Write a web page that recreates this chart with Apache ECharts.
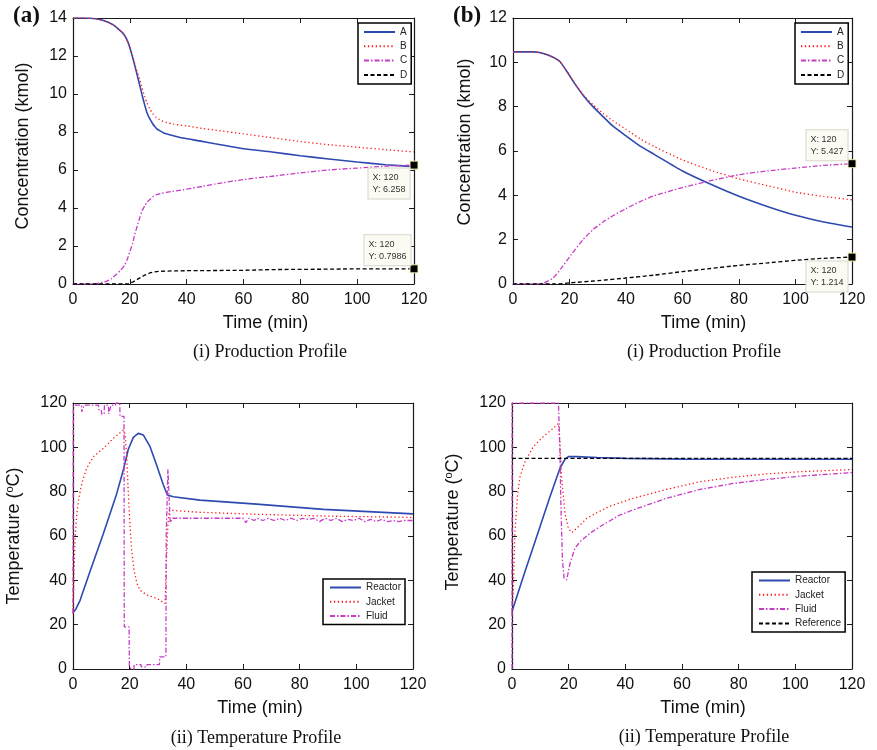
<!DOCTYPE html>
<html>
<head>
<meta charset="utf-8">
<script src="https://cdn.jsdelivr.net/npm/echarts@6/dist/echarts.min.js"></script>
<style>
html,body{margin:0;padding:0;background:#fff;}
#chart{width:877px;height:750px;}
</style>
</head>
<body>
<div id="chart"></div>
<script>
// ---------- Panel (a) production profile ----------
const tA_a = [0,4,8,11,14,16,17.6,19,20,21,21.7,22.5,23.5,24.3,25.2,26,27,28,28.7,29.5,30.5,32,34,38.7,45,50,60,70,80,90,100,110,120];
const A_a  = [14,14,13.96,13.85,13.65,13.42,13.2,12.85,12.45,11.92,11.52,11.05,10.45,9.96,9.44,9.03,8.7,8.45,8.3,8.17,8.07,7.95,7.86,7.68,7.52,7.38,7.12,6.95,6.75,6.58,6.42,6.28,6.18];
const tB_a = [0,4,8,11,14,16,17.6,19,20,21,22,23.5,24.3,25.2,26,27,28,29.3,30.5,31.7,33,35.2,40,45.7,50,60,70,80,90,100,110,120];
const B_a  = [14,14,13.96,13.85,13.65,13.42,13.2,12.85,12.45,12.0,11.45,10.75,10.3,9.9,9.55,9.23,8.98,8.77,8.65,8.56,8.5,8.42,8.32,8.18,8.1,7.9,7.7,7.5,7.33,7.2,7.07,6.95];
const tC_a = [0,7,11.7,13.5,15.2,16.7,18.2,19.1,20,21,21.7,22.6,23.5,24.3,25.2,26,27,28,29.3,31,32.8,35,38.7,45.7,50,60,70,80,90,100,110,120];
const C_a  = [0,0,0.14,0.28,0.5,0.72,1.0,1.3,1.7,2.15,2.6,3.05,3.5,3.85,4.1,4.3,4.44,4.58,4.7,4.77,4.82,4.88,4.96,5.14,5.26,5.5,5.67,5.85,6.0,6.1,6.2,6.258];
const tD_a = [0,19.4,21,22,23.5,25,27,28.5,30.5,35,40,50,60,70,80,90,100,110,120];
const D_a  = [0,0,0.1,0.18,0.32,0.45,0.58,0.64,0.67,0.69,0.7,0.71,0.72,0.76,0.77,0.78,0.8,0.8,0.7986];

// ---------- Panel (b) production profile ----------
const tA_b = [0,7,9.4,13,16.5,18.9,21.8,24.8,28.3,31.9,35.4,40,45,50,60,70,80,90,100,110,120];
const A_b  = [10.47,10.47,10.44,10.3,10.05,9.62,9.05,8.52,8.0,7.55,7.12,6.68,6.22,5.85,5.1,4.5,3.96,3.5,3.1,2.8,2.57];
const tB_b = [0,7,9.4,13,16.5,18.9,21.8,24.8,28.3,31.9,35.4,40,45,50,60,70,80,90,100,110,120];
const B_b  = [10.47,10.47,10.44,10.3,10.05,9.62,9.05,8.55,8.09,7.7,7.36,6.98,6.55,6.2,5.6,5.13,4.74,4.44,4.14,3.95,3.8];
const tC_b = [0,8,10.6,14.2,17.1,20.6,24.8,28.3,31.9,35.4,40,45,50,60,70,80,90,100,110,120];
const C_b  = [0,0,0.03,0.27,0.72,1.32,2.0,2.45,2.8,3.08,3.4,3.72,3.98,4.35,4.66,4.93,5.1,5.23,5.35,5.427];
const tD_b = [0,15,20,30,40,50,60,70,80,90,100,110,120];
const D_b  = [0,0,0.05,0.15,0.27,0.4,0.56,0.7,0.84,0.95,1.07,1.16,1.214];

// ---------- Panel (c) temperature profile ----------
const tR_c = [0,1,2.5,6,10.7,15.4,17.8,19.5,21.3,23,24.8,27.2,29.5,31.9,33.3,34,35.4,44.8,64.8,88.4,120];
const R_c  = [25.5,27,31,44,61,79,90,99,104.5,106.3,105.6,100.3,92,83,78.5,78,77.7,76.2,74.4,72,70];
const tJ_c = [0,0.3,0.7,1.2,1.9,3.1,4.8,7.2,10.7,14.2,17.8,18.4,19,19.5,20.1,20.7,21.5,22.5,23.6,26,29.5,32.5,33.0,33.5,34,35.4,44.8,64.8,88.4,120];
const J_c  = [25,40,58,68,76,83.7,90.5,95.8,99.5,104,107.8,106,95,80,65,54,45,39,35.6,33.4,31.9,29.6,50,65,71.9,71.5,70.7,69.8,69,68.4];
const tF_c = [0,0.1,3,3.1,3.8,3.9,9,9.1,10,10.1,11,11.1,12.5,12.6,13.3,13.4,15,15.1,16.5,16.6,18,18.1,19.8,19.9,20.5,20.6,21.5,21.6,24,24.1,26,26.1,30.5,30.6,32.8,32.9,33.5,34.2,34.3,35,35.1,60,61,62,64,65,67,69,71,73,75,77,79,81,83,85,87,89,91,93,95,97,99,101,103,105,107,109,111,113,115,117,120];
const F_c  = [25,119,119,116,116,119,119,117,117,115,115,119,119,115,115,119,119,120,120,114,114,19,19,1,1,0,0,2,2,1,1,2,2,5.5,5.5,60,90,90,66,66,68,68,66,68,67,68,67,68,67,68,67,68,67,68,67.5,68,66.5,68,67,68,66.5,67.5,67,68,66.5,67.5,66.5,67.5,66.5,67,66.5,67,67];

// ---------- Panel (d) temperature profile ----------
const tR_d = [0,4,8.7,13.4,16.9,18.2,18.7,19.3,19.9,22.8,30,40,60,120];
const R_d  = [25.9,41.7,59.7,77.7,90.5,93.5,94.6,95.4,95.8,95.8,95.4,95,94.7,94.6];
const tJ_d = [0,0.5,1,1.9,2.8,4.6,7.5,11,14.6,16.4,16.8,17.5,18.7,19.9,21.1,22.8,26.4,29.9,34.6,42.8,54.5,66.3,78,89.8,101.6,120];
const J_d  = [25,37,61,77.7,86.7,93.5,100.3,104.8,108.6,110.8,104,86.7,70.2,63.4,61.5,63.4,68,70.5,73.5,77,81,84.5,86.5,88,89,90];
const tF_d = [0,0.05,16.4,16.9,17.3,17.8,18.4,19.3,20.5,22.2,24,27.5,31,34.6,38.1,42.8,54.5,66.3,78,89.8,101.6,120];
const F_d  = [0,120,120,98.8,71.8,49.2,41,40.2,47.7,54.5,57.4,61.2,64.2,66.9,69.5,71.8,77,81,83.7,85.5,87,88.6];
const tRef_d = [0,120];
const Ref_d  = [95,95];

// ---------- tick / text ----------
const xTicks = {min:0, max:120, interval:20};
const yTicks_a = {min:0, max:14, interval:2};
const yTicks_b = {min:0, max:12, interval:2};
const yTicks_cd = {min:0, max:120, interval:20};
const tipsA = [[120,6.258],[120,0.7986]];
const tipsB = [[120,5.427],[120,1.214]];

const SANS = 'Liberation Sans, Arial, Helvetica, sans-serif';
const SERIF = 'Liberation Serif, Times New Roman, serif';
const AX = '#1a1a1a';

function zip(t, v){ return t.map((x,i)=>[x, v[i]]); }

const grids = [
  {left:73, top:18, width:341, height:266},
  {left:513, top:18, width:339, height:266},
  {left:73, top:403, width:340, height:266},
  {left:512, top:403, width:340, height:266}
];

function xAxis(g, bottom, namePad){
  const o = Object.assign({type:'value', gridIndex:g, position: bottom?'bottom':'top'}, xTicks, {
    axisLine:{show:true, onZero:false, lineStyle:{color:AX, width:1.2}},
    axisTick:{show:true, inside:true, length:5, lineStyle:{color:AX, width:1}},
    axisLabel:{show:bottom, margin:8, fontSize:16, color:'#111', fontFamily:SANS},
    splitLine:{show:false}
  });
  if (bottom){
    o.name = 'Time (min)'; o.nameLocation='middle'; o.nameGap = 30;
    o.nameTextStyle = {fontSize:18, color:'#111', fontFamily:SANS, padding:[0,0,0,namePad]};
  }
  return o;
}
function yAxis(g, left, ticks, name, nameGap, namePad){
  const o = Object.assign({type:'value', gridIndex:g, position: left?'left':'right'}, ticks, {
    axisLine:{show:true, onZero:false, lineStyle:{color:AX, width:1.2}},
    axisTick:{show:true, inside:true, length:5, lineStyle:{color:AX, width:1}},
    axisLabel:{show:left, margin:6, fontSize:16, color:'#111', fontFamily:SANS},
    splitLine:{show:false}
  });
  if (left){
    o.name = name; o.nameLocation='middle'; o.nameGap = nameGap;
    o.nameTextStyle = {fontSize:18, color:'#111', fontFamily:SANS, padding:[0,0,0,namePad],
      rich:{sup:{fontSize:11, fontFamily:SANS, color:'#111', padding:[0,0,9,0]}}};
  }
  return o;
}

const BLUE = '#2e49b0', RED = '#ff1a1a', MAG = '#c63cc6', BLK = '#000';
const styles = {
  A:{color:BLUE, width:1.6, type:'solid'},
  B:{color:RED, width:1.3, type:[1.3,2.6]},
  C:{color:MAG, width:1.3, type:[5,2,1.5,2]},
  D:{color:BLK, width:1.3, type:[4,2.5]}
};

function line(name, st, g, data, smooth, mp){
  const s = {
    type:'line', name:name, xAxisIndex:g, yAxisIndex:g, data:data,
    symbol:'none', showSymbol:false, animation:false,
    color: st.color,
    lineStyle:{color:st.color, width:st.width, type:st.type},
    itemStyle:{color:st.color},
    emphasis:{disabled:true}
  };
  if (smooth){ s.smooth = smooth; }
  if (mp) s.markPoint = mp;
  return s;
}

function tip(pt, pos){
  return {
    coord: pt, symbol:'rect', symbolSize:8,
    itemStyle:{color:'#000', borderColor:'#f4f0b0', borderWidth:1},
    label:{show:true, position:pos, formatter:'X: ' + pt[0] + '\nY: ' + pt[1],
      fontSize:9, lineHeight:12, color:'#333', fontFamily:SANS,
      backgroundColor:'#fbfbf3', borderColor:'#d6d6cc', borderWidth:1, padding:[3,4,3,4], align:'left', verticalAlign:'top'}
  };
}
function mpOf(list){ return {silent:true, animation:false, data:list}; }

const series = [
  line('A', styles.A, 0, zip(tA_a, A_a), 0.2),
  line('B', styles.B, 0, zip(tB_a, B_a), 0.2),
  line('C', styles.C, 0, zip(tC_a, C_a), 0.2, mpOf([tip(tipsA[0], [-41, 8])])),
  line('D', styles.D, 0, zip(tD_a, D_a), 0, mpOf([tip(tipsA[1], [-45, -29])])),
  line('A', styles.A, 1, zip(tA_b, A_b), 0.2),
  line('B', styles.B, 1, zip(tB_b, B_b), 0.2),
  line('C', styles.C, 1, zip(tC_b, C_b), 0.2, mpOf([tip(tipsB[0], [-41, -29])])),
  line('D', styles.D, 1, zip(tD_b, D_b), 0.2, mpOf([tip(tipsB[1], [-41, 9])])),
  line('Reactor', styles.A, 2, zip(tR_c, R_c), 0),
  line('Jacket', styles.B, 2, zip(tJ_c, J_c), 0),
  line('Fluid', styles.C, 2, zip(tF_c, F_c), 0),
  line('Reactor', styles.A, 3, zip(tR_d, R_d), 0),
  line('Jacket', styles.B, 3, zip(tJ_d, J_d), 0),
  line('Fluid', styles.C, 3, zip(tF_d, F_d), 0),
  line('Reference', styles.D, 3, zip(tRef_d, Ref_d), 0)
];

function legend(names, left, top, pad){
  return {
    data:names, orient:'vertical', left:left, top:top, selectedMode:false,
    itemWidth:31, itemHeight:12, itemGap:4.3, padding:pad,
    borderColor:'#000', borderWidth:1.5, backgroundColor:'#fff',
    itemStyle:{opacity:0},
    textStyle:{fontSize:10, color:'#222', fontFamily:SANS}
  };
}

const option = {
  backgroundColor:'#fff',
  animation:false,
  grid: grids,
  xAxis: [xAxis(0,true,44), xAxis(1,true,42), xAxis(2,true,34), xAxis(3,true,42),
          xAxis(0,false), xAxis(1,false), xAxis(2,false), xAxis(3,false)],
  yAxis: [yAxis(0,true,yTicks_a,'Concentration (kmol)',41,10),
          yAxis(1,true,yTicks_b,'Concentration (kmol)',39,18),
          yAxis(2,true,yTicks_cd,'Temperature ({sup|o}C)',49,0),
          yAxis(3,true,yTicks_cd,'Temperature ({sup|o}C)',49,28),
          yAxis(0,false,yTicks_a), yAxis(1,false,yTicks_b), yAxis(2,false,yTicks_cd), yAxis(3,false,yTicks_cd)],
  legend: [
    legend(['A','B','C','D'], 358, 23, [4,4,4,5]),
    legend(['A','B','C','D'], 795, 23, [4,4,4,5]),
    legend(['Reactor','Jacket','Fluid'], 323, 579, [3.5,4,3.5,6]),
    legend(['Reactor','Jacket','Fluid','Reference'], 752, 572, [3.5,4,3.5,6])
  ],
  series: series,
  graphic: [
    {type:'text', left:13, top:5, style:{text:'(a)', font:'bold 23px ' + SERIF, fill:'#111'}},
    {type:'text', left:453, top:5, style:{text:'(b)', font:'bold 23px ' + SERIF, fill:'#111'}},
    {type:'text', x:270, y:352, style:{text:'(i) Production Profile', font:'18px ' + SERIF, fill:'#111', textAlign:'center', textVerticalAlign:'middle'}},
    {type:'text', x:704, y:352, style:{text:'(i) Production Profile', font:'18px ' + SERIF, fill:'#111', textAlign:'center', textVerticalAlign:'middle'}},
    {type:'text', x:256, y:738, style:{text:'(ii) Temperature Profile', font:'18px ' + SERIF, fill:'#111', textAlign:'center', textVerticalAlign:'middle'}},
    {type:'text', x:704, y:737, style:{text:'(ii) Temperature Profile', font:'18px ' + SERIF, fill:'#111', textAlign:'center', textVerticalAlign:'middle'}}
  ]
};

const chart = echarts.init(document.getElementById('chart'), null, {renderer:'canvas'});
chart.setOption(option);
</script>
</body>
</html>
